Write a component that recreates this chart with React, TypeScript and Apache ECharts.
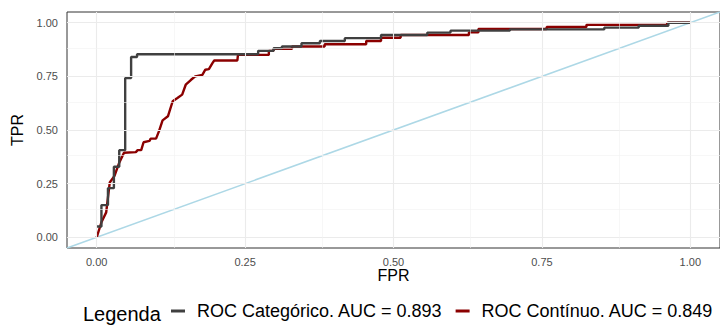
import React, { useEffect, useRef } from "react";
import * as echarts from "echarts";

const seriesNames = ["ROC Categórico. AUC = 0.893", "ROC Contínuo. AUC = 0.849"];
const legendTitle = "Legenda";
const xTitle = "FPR";
const yTitle = "TPR";

// ROC curve of the categorical predictor: [FPR, TPR]
const catPoints: [number, number][] = [
  [0, 0.05], [0.008, 0.05], [0.008, 0.15], [0.019, 0.15], [0.019, 0.229],
  [0.029, 0.229], [0.029, 0.329], [0.038, 0.329], [0.038, 0.406], [0.048, 0.406],
  [0.048, 0.742], [0.058, 0.742], [0.058, 0.84], [0.068, 0.84], [0.068, 0.853],
  [0.272, 0.853], [0.272, 0.869], [0.298, 0.869], [0.298, 0.881], [0.312, 0.881],
  [0.312, 0.889], [0.345, 0.889], [0.345, 0.904], [0.376, 0.904], [0.376, 0.915],
  [0.418, 0.915], [0.418, 0.928], [0.479, 0.928], [0.479, 0.943], [0.557, 0.943],
  [0.557, 0.954], [0.596, 0.954], [0.596, 0.963], [0.696, 0.963], [0.696, 0.969],
  [0.855, 0.969], [0.855, 0.977], [0.913, 0.977], [0.913, 0.986], [0.963, 0.986],
  [0.963, 1.0], [1.0, 1.0],
];

// ROC curve of the continuous predictor: [FPR, TPR]
const contPoints: [number, number][] = [
  [0, 0], [0.008, 0.07], [0.016, 0.116], [0.022, 0.255], [0.03, 0.286],
  [0.038, 0.348], [0.046, 0.394], [0.066, 0.397], [0.069, 0.406], [0.075, 0.406],
  [0.079, 0.443], [0.089, 0.449], [0.091, 0.46], [0.1, 0.46], [0.105, 0.495],
  [0.111, 0.545], [0.12, 0.564], [0.128, 0.634], [0.136, 0.649], [0.144, 0.665],
  [0.15, 0.711], [0.159, 0.734], [0.166, 0.75], [0.178, 0.757], [0.183, 0.781],
  [0.189, 0.784], [0.195, 0.812], [0.198, 0.824], [0.237, 0.824], [0.238, 0.85],
  [0.29, 0.85], [0.29, 0.869], [0.298, 0.869], [0.298, 0.878], [0.329, 0.878],
  [0.329, 0.889], [0.384, 0.889], [0.384, 0.9], [0.454, 0.9], [0.454, 0.915],
  [0.479, 0.915], [0.479, 0.93], [0.512, 0.93], [0.512, 0.943], [0.627, 0.943],
  [0.627, 0.955], [0.643, 0.955], [0.643, 0.971], [0.758, 0.971], [0.758, 0.98],
  [0.825, 0.98], [0.825, 0.99], [0.961, 0.99], [0.961, 1.0], [1.0, 1.0],
];

// Reference diagonal (y = x) across the full panel
const diagPoints: [number, number][] = [[-0.05, -0.05], [1.05, 1.05]];

const axisMin = -0.05;
const axisMax = 1.05;
const majorTicks = [0, 0.25, 0.5, 0.75, 1];
const minorTicks = [0.125, 0.375, 0.625, 0.875];

const FONT = "'Liberation Sans', Arial, sans-serif";

export default function App() {
  const ref = useRef<HTMLDivElement>(null);

  useEffect(() => {
    document.body.style.margin = "0";
    if (!ref.current) return;
    const chart = echarts.init(ref.current, undefined, { renderer: "svg" });

    const gridLines: any[] = [];
    for (const v of majorTicks) {
      gridLines.push({ xAxis: v, lineStyle: { color: "#ebebeb", width: 1.1, type: "solid" } });
      gridLines.push({ yAxis: v, lineStyle: { color: "#ebebeb", width: 1.1, type: "solid" } });
    }
    for (const v of minorTicks) {
      gridLines.push({ xAxis: v, lineStyle: { color: "#f2f2f2", width: 0.6, type: "solid" } });
      gridLines.push({ yAxis: v, lineStyle: { color: "#f2f2f2", width: 0.6, type: "solid" } });
    }

    const axisCommon = {
      type: "value" as const,
      min: axisMin,
      max: axisMax,
      axisLine: { show: false },
      splitLine: { show: false },
      axisTick: {
        show: true,
        customValues: majorTicks,
        length: 5,
        lineStyle: { color: "#333333", width: 1 },
      },
      axisLabel: {
        customValues: majorTicks,
        formatter: (v: number) => v.toFixed(2),
        color: "#4d4d4d",
        fontSize: 11,
        lineHeight: 11,
        fontFamily: FONT,
        margin: 8,
      },
      nameLocation: "middle" as const,
      nameTextStyle: { color: "#000000", fontSize: 16, lineHeight: 16, fontFamily: FONT },
    };

    chart.setOption({
      animation: false,
      textStyle: { fontFamily: FONT },
      grid: {
        left: 67,
        top: 12,
        right: -5,
        bottom: 77,
        show: true,
        borderColor: "#333333",
        borderWidth: 1,
        backgroundColor: "transparent",
        containLabel: false,
      },
      xAxis: { ...axisCommon, name: xTitle, nameGap: 19, nameMoveOverlap: false },
      yAxis: {
        ...axisCommon,
        name: yTitle,
        nameGap: 40,
        axisLabel: { ...axisCommon.axisLabel, margin: 9 },
      },
      legend: {
        data: seriesNames,
        left: 171,
        top: 302,
        width: 560,
        padding: 0,
        icon: "rect",
        itemWidth: 14,
        itemHeight: 3,
        itemGap: 13,
        selectedMode: false,
        textStyle: { fontSize: 18, color: "#000000", fontFamily: FONT, padding: [0, 0, 0, 7] },
      },
      graphic: [
        {
          type: "text",
          x: 83,
          y: 313.5,
          style: {
            text: legendTitle,
            fontSize: 20,
            fontFamily: FONT,
            fill: "#000000",
            align: "left",
            verticalAlign: "middle",
          },
        },
      ],
      series: [
        {
          name: "grid",
          type: "line",
          data: [],
          silent: true,
          z: 0,
          markLine: {
            silent: true,
            symbol: ["none", "none"],
            label: { show: false },
            emphasis: { disabled: true },
            lineStyle: { type: "solid" },
            data: gridLines,
          },
        },
        {
          name: "diagonal",
          type: "line",
          data: diagPoints,
          showSymbol: false,
          silent: true,
          z: 1,
          lineStyle: { color: "#add8e6", width: 1.5 },
        },
        {
          name: seriesNames[1],
          type: "line",
          data: contPoints,
          showSymbol: false,
          z: 2,
          color: "#8b0000",
          lineStyle: { color: "#8b0000", width: 2.4 },
        },
        {
          name: seriesNames[0],
          type: "line",
          data: catPoints,
          showSymbol: false,
          z: 3,
          color: "#404040",
          lineStyle: { color: "#404040", width: 2.4 },
        },
      ],
    });

    return () => chart.dispose();
  }, []);

  return <div ref={ref} style={{ width: 720, height: 325 }} />;
}
